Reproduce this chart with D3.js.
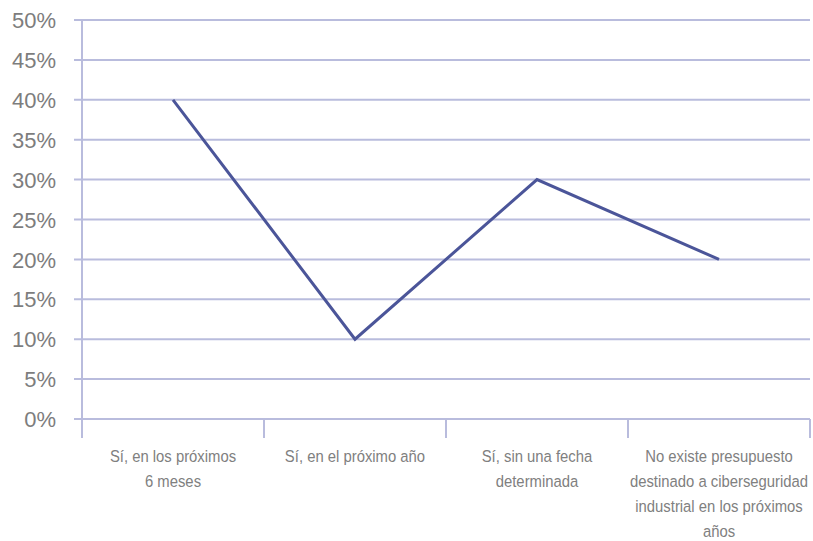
<!DOCTYPE html>
<html>
<head>
<meta charset="utf-8">
<script src="https://cdn.jsdelivr.net/npm/d3@7"></script>
<style>
  html, body { margin: 0; padding: 0; background: #fff; }
  svg { display: block; }
  .ytick text { font-family: "Liberation Sans", Arial, sans-serif; font-size: 22px; fill: #7d7d7d; }
  .cat text { font-family: "Liberation Sans", Arial, sans-serif; font-size: 16.5px; fill: #808080; }
</style>
</head>
<body>
<svg id="chart" width="813" height="541"></svg>
<script>
// Budget plans for industrial cybersecurity
const categories = [
  ["Sí, en los próximos", "6 meses"],
  ["Sí, en el próximo año"],
  ["Sí, sin una fecha", "determinada"],
  ["No existe presupuesto", "destinado a ciberseguridad", "industrial en los próximos", "años"]
];
const values = [40, 10, 30, 20];
const yTicks = [0, 5, 10, 15, 20, 25, 30, 35, 40, 45, 50];

const svg = d3.select("#chart");
const margin = { left: 82, right: 3, top: 20, bottom: 122 };
const W = 813, H = 541;

const x = d3.scaleBand()
  .domain(d3.range(categories.length))
  .range([margin.left, W - margin.right])
  .padding(0);
const y = d3.scaleLinear().domain([0, 50]).range([H - margin.bottom, margin.top]);

const gridColor = "#b9bcdd";

// horizontal grid lines with short ticks left of the axis
const yg = svg.append("g");
yTicks.forEach(t => {
  yg.append("line")
    .attr("x1", margin.left - 8).attr("x2", W - margin.right)
    .attr("y1", y(t)).attr("y2", y(t))
    .attr("stroke", gridColor).attr("stroke-width", 2);
  const g = yg.append("g").attr("class", "ytick");
  g.append("text")
    .attr("x", 56).attr("y", y(t)).attr("dy", "0.37em")
    .attr("text-anchor", "end")
    .text(t + "%");
});

// vertical axis line
svg.append("line")
  .attr("x1", margin.left).attr("x2", margin.left)
  .attr("y1", y(50)).attr("y2", y(0) + 19)
  .attr("stroke", gridColor).attr("stroke-width", 2);

// category separators
categories.forEach((c, i) => {
  const xe = x(i) + x.bandwidth();
  svg.append("line")
    .attr("x1", xe).attr("x2", xe)
    .attr("y1", y(0)).attr("y2", y(0) + 19)
    .attr("stroke", gridColor).attr("stroke-width", 2);
});

// category labels, set in a slightly condensed face
const cat = svg.append("g").attr("class", "cat");
categories.forEach((lines, i) => {
  const cx = x(i) + x.bandwidth() / 2;
  const t = cat.append("text")
    .attr("text-anchor", "middle")
    .attr("transform", `translate(${cx},0) scale(0.9,1)`);
  lines.forEach((ln, j) => {
    t.append("tspan").attr("x", 0).attr("y", 462 + j * 25).text(ln);
  });
});

// data line
const line = d3.line()
  .x((d, i) => x(i) + x.bandwidth() / 2)
  .y(d => y(d));
svg.append("path")
  .datum(values)
  .attr("d", line)
  .attr("fill", "none")
  .attr("stroke", "#4b5599")
  .attr("stroke-width", 3);
</script>
</body>
</html>
